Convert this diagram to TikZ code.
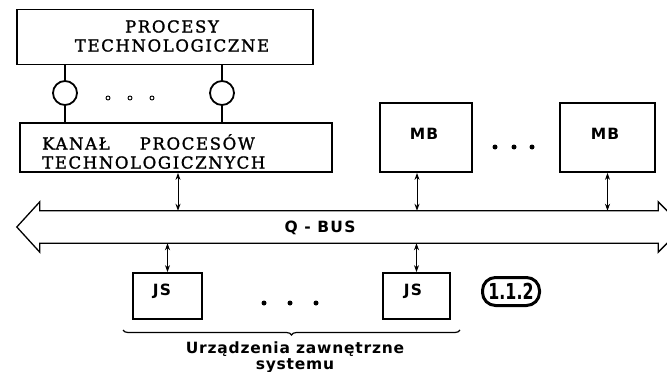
\documentclass[tikz,border=0pt]{standalone}
\usepackage{fontspec}
\setmainfont{DejaVu Serif}[LetterSpace=10, FakeBold=1.5]
\newfontfamily\lblfont{DejaVu Sans}[LetterSpace=8]
\newfontfamily\lowfont{DejaVu Sans}[LetterSpace=5]
\newfontfamily\badgefont{DejaVu Sans}
\usetikzlibrary{arrows.meta,decorations.pathreplacing}
\tikzset{
  box/.style={draw, line width=1.8pt, inner sep=0pt},
  ring/.style={draw, circle, line width=1.8pt, minimum size=24pt, inner sep=0pt},
  conn/.style={line width=1pt, {Stealth[length=7pt,width=5pt]}-{Stealth[length=7pt,width=5pt]}},
  stem/.style={line width=1.4pt},
  busline/.style={line width=1.3pt, line join=miter},
  serif/.style={font=\fontsize{16.5}{19}\selectfont, align=center, inner sep=0pt},
  lbl/.style={font=\lblfont\bfseries\fontsize{15.5}{16}\selectfont, inner sep=0pt},
  smalldot/.style={draw, circle, line width=0.9pt, minimum size=4pt, inner sep=0pt},
  bigdot/.style={fill, circle, minimum size=5pt, inner sep=0pt},
}
\begin{document}
\begin{tikzpicture}[x=1pt,y=-1pt]
\useasboundingbox (0,0) rectangle (667,372);
\clip (0,0) rectangle (667,372);

% top boxes
\node[box, minimum width=296pt, minimum height=55pt] (proc) at (165,37) {};
\node[serif] (proct) at (172,36) {PROCESY\\TECHNOLOGICZNE};

\node[box, minimum width=312pt, minimum height=49pt] (kanal) at (176,147.5) {};
\node[serif, anchor=west, align=left] (kanalt) at (42,151.5) {KANAŁ\hspace{30pt}PROCESÓW\\TECHNOLOGICZNYCH};

% rings
\node[ring] (c1) at (65,93) {};
\node[ring] (c2) at (222,93) {};
\draw[stem] (c1 |- proc.south) -- (c1.north);
\draw[stem] (c1.south) -- (c1 |- kanal.north);
\draw[stem] (c2 |- proc.south) -- (c2.north);
\draw[stem] (c2.south) -- (c2 |- kanal.north);
\node[smalldot] (d1) at (108,98) {};
\node[smalldot] (d2) at (130,98) {};
\node[smalldot] (d3) at (152,98) {};

% MB boxes
\node[box, minimum width=92pt, minimum height=69pt] (mb1) at (426,137.5) {};
\node[lbl] (mb1t) at (424,134) {MB};
\node[box, minimum width=95pt, minimum height=69pt] (mb2) at (607.5,137.5) {};
\node[lbl] (mb2t) at (605,134) {MB};
\node[bigdot] (e1) at (495,147) {};
\node[bigdot] (e2) at (514,147) {};
\node[bigdot] (e3) at (532,147) {};

% bus
\node[minimum width=618pt, minimum height=32pt, inner sep=0pt] (bus) at (349,227) {};
\draw[busline] (bus.north west) -- ([yshift=9pt]bus.north west) -- ([xshift=-23pt]bus.west)
  -- ([yshift=-9pt]bus.south west) -- (bus.south west) -- (bus.south east)
  -- ([yshift=-9pt]bus.south east) -- ([xshift=25pt]bus.east)
  -- ([yshift=9pt]bus.north east) -- (bus.north east) -- cycle;
\node[lbl] (bust) at (320,227.5) {Q - BUS};

% JS boxes
\node[box, minimum width=69pt, minimum height=46pt] (js1) at (167.5,296) {};
\node[lbl] (js1t) at (162,291) {JS};
\node[box, minimum width=67pt, minimum height=46pt] (js2) at (416.5,296) {};
\node[lbl] (js2t) at (413,291) {JS};
\node[bigdot] (f1) at (264,303) {};
\node[bigdot] (f2) at (290,303) {};
\node[bigdot] (f3) at (316,303) {};

% connectors
\coordinate (k1) at ([xshift=2pt]kanal.south);
\coordinate (m1) at ([xshift=-9pt]mb1.south);
\draw[conn] (k1) -- (k1 |- bus.north);
\draw[conn] (m1) -- (m1 |- bus.north);
\draw[conn] (mb2.south) -- (mb2.south |- bus.north);
\draw[conn] (js1.north |- bus.south) -- (js1.north);
\draw[conn] (js2.north |- bus.south) -- (js2.north);

% brace
\coordinate (bl) at (123,330);
\coordinate (br) at (460,330);
\draw[line width=1.2pt, decorate, decoration={brace, mirror, amplitude=5pt}] (bl) -- (br);
\node[align=center, inner sep=0pt, font=\lowfont\bfseries\fontsize{15.5}{16}\selectfont] (urz) at (295,357) {Urządzenia zawnętrzne\\systemu};

% badge
\node[draw, line width=3pt, rounded corners=13pt, minimum width=57pt, minimum height=28pt, inner sep=0pt] (fig) at (511,291.5)
  {\scalebox{0.72}[1]{\badgefont\bfseries\fontsize{22}{22}\selectfont 1.1.2}};
\end{tikzpicture}
\end{document}
